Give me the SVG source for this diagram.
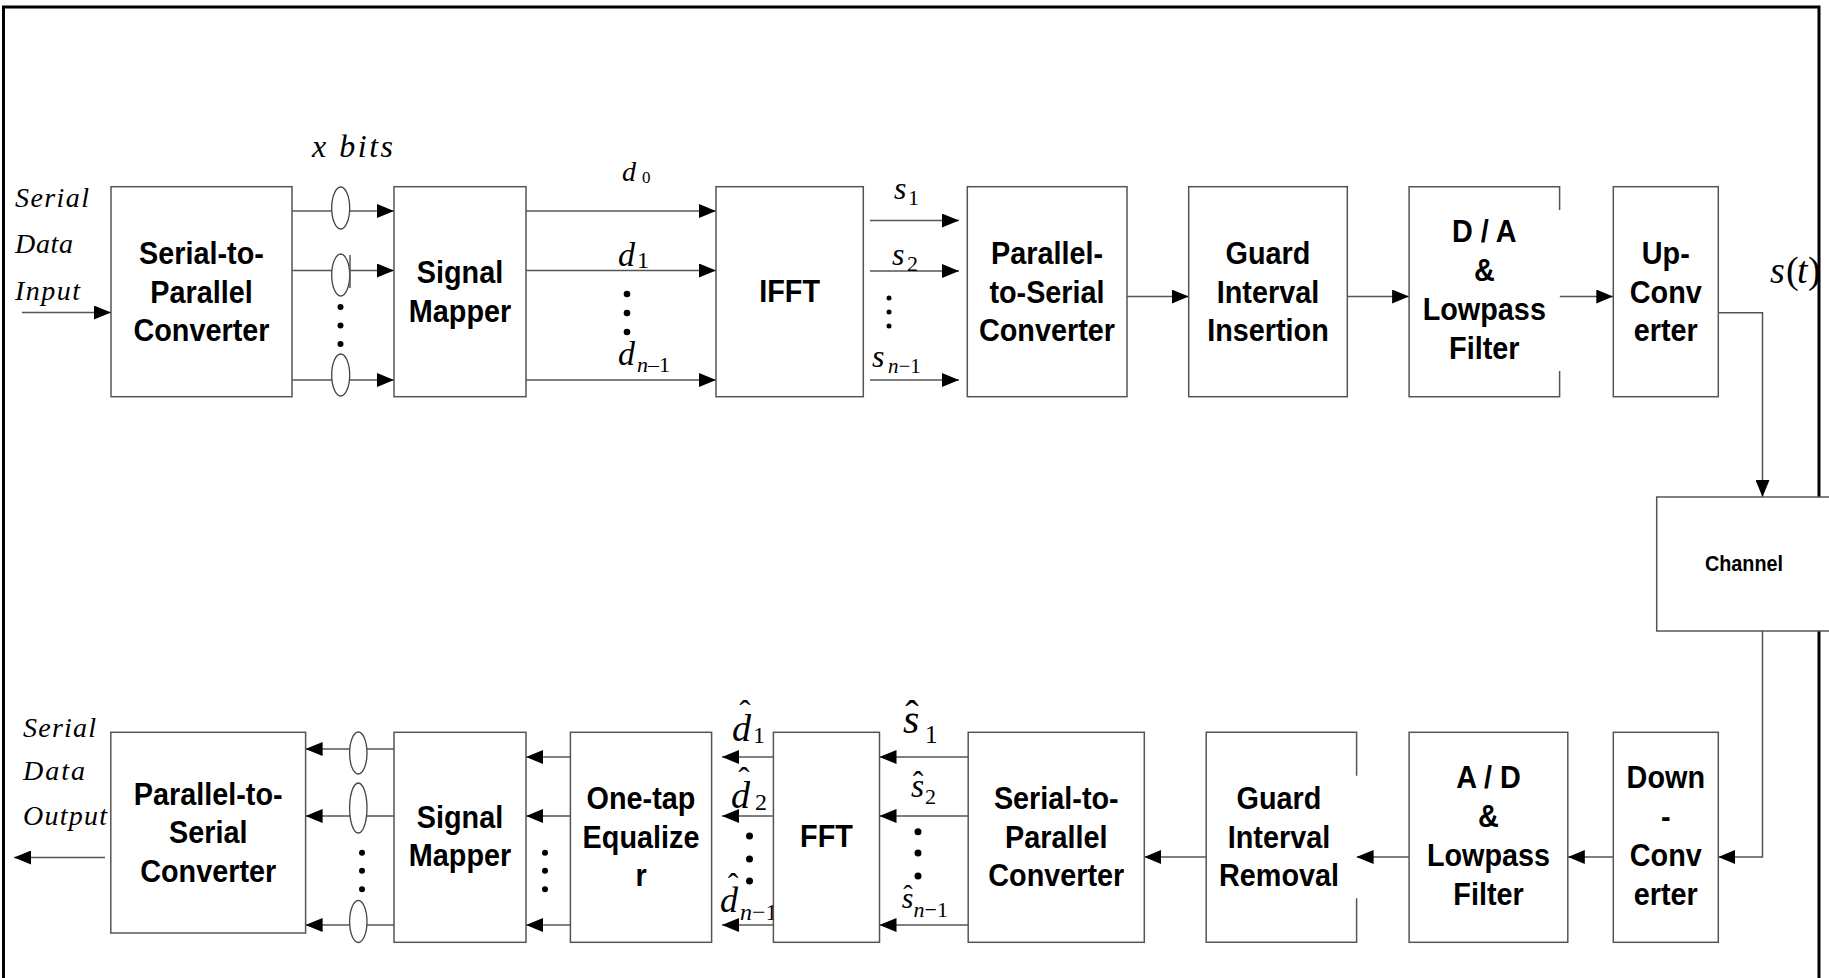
<svg xmlns="http://www.w3.org/2000/svg" width="1829" height="978" viewBox="0 0 1829 978">
<style>
.box{fill:#fff;stroke:#555;stroke-width:1.5}
.ln{fill:none;stroke:#555;stroke-width:1.5}
.ar{fill:none;stroke:#555;stroke-width:1.5;marker-end:url(#ah)}
.ell{fill:#fff;stroke:#444;stroke-width:1.3}
.dot{fill:#000}
.frame{fill:none;stroke:#000;stroke-width:3}
.lbl{font-family:"Liberation Sans",Arial,sans-serif;font-weight:bold;font-size:32px;text-anchor:middle;fill:#000}
.ch{font-size:22px}
.it{font-family:"Liberation Serif","Times New Roman",serif;font-style:italic;fill:#000}
.rm{font-family:"Liberation Serif","Times New Roman",serif;font-style:normal;fill:#000}
.hat{font-family:"Liberation Serif","Times New Roman",serif;font-style:normal;text-anchor:middle;fill:#000}
</style>
<defs>
<marker id="ah" markerUnits="userSpaceOnUse" markerWidth="17" markerHeight="14" refX="17" refY="7" orient="auto">
<path d="M0,0 L17,7 L0,14 z" fill="#000"/>
</marker>
</defs>
<rect width="1829" height="978" fill="#fff"/>
<g id="frame">
<path class="frame" d="M3.5,978 V7 H1819 V497"/>
<path class="frame" d="M1819,631 V978"/>
</g>

<g id="connectors">
<line class="ar" x1="22" y1="312.5" x2="111" y2="312.5"/>
<line class="ar" x1="287" y1="211" x2="394" y2="211"/>
<line class="ar" x1="287" y1="270.5" x2="394" y2="270.5"/>
<line class="ar" x1="287" y1="380" x2="394" y2="380"/>
<line class="ar" x1="526" y1="211" x2="716" y2="211"/>
<line class="ar" x1="526" y1="270.5" x2="716" y2="270.5"/>
<line class="ar" x1="526" y1="380" x2="716" y2="380"/>
<line class="ar" x1="870" y1="220.5" x2="959" y2="220.5"/>
<line class="ar" x1="870" y1="271" x2="959" y2="271"/>
<line class="ar" x1="870" y1="380" x2="959" y2="380"/>
<line class="ar" x1="1127" y1="296.5" x2="1188.7" y2="296.5"/>
<line class="ar" x1="1347.3" y1="296.5" x2="1409.1" y2="296.5"/>
<line class="ar" x1="1559.6" y1="296.5" x2="1613.3" y2="296.5"/>
<polyline class="ar" points="1718.3,312.7 1762.5,312.7 1762.5,497"/>
<polyline class="ar" points="1762.5,631 1762.5,857 1718.3,857"/>
<line class="ar" x1="1613.3" y1="857" x2="1567.8" y2="857"/>
<line class="ar" x1="1409.1" y1="857" x2="1356.6" y2="857"/>
<line class="ar" x1="1206.2" y1="857" x2="1144.3" y2="857"/>
<line class="ar" x1="968.2" y1="757" x2="879.5" y2="757"/>
<line class="ar" x1="968.2" y1="816" x2="879.5" y2="816"/>
<line class="ar" x1="968.2" y1="925" x2="879.5" y2="925"/>
<line class="ar" x1="773.4" y1="757" x2="722" y2="757"/>
<line class="ar" x1="773.4" y1="816" x2="722" y2="816"/>
<line class="ar" x1="773.4" y1="925" x2="722" y2="925"/>
<line class="ar" x1="570.4" y1="757" x2="526" y2="757"/>
<line class="ar" x1="570.4" y1="816" x2="526" y2="816"/>
<line class="ar" x1="570.4" y1="925" x2="526" y2="925"/>
<line class="ar" x1="394" y1="749" x2="305.6" y2="749"/>
<line class="ar" x1="394" y1="816" x2="305.6" y2="816"/>
<line class="ar" x1="394" y1="925" x2="305.6" y2="925"/>
<line class="ar" x1="105" y1="857.5" x2="14" y2="857.5"/>
</g>

<g id="bit-groups">
<ellipse class="ell" cx="340.7" cy="208" rx="9" ry="21"/>
<ellipse class="ell" cx="340.7" cy="275" rx="9" ry="21"/>
<line class="ln" x1="350" y1="255" x2="350" y2="288" stroke="#000"/>
<ellipse class="ell" cx="340.7" cy="375" rx="9" ry="21"/>
<circle class="dot" cx="340.5" cy="307" r="3"/>
<circle class="dot" cx="340.5" cy="325.5" r="3"/>
<circle class="dot" cx="340.5" cy="344" r="3"/>
<ellipse class="ell" cx="358.3" cy="753" rx="8.7" ry="21"/>
<ellipse class="ell" cx="358.3" cy="808" rx="8.7" ry="25"/>
<ellipse class="ell" cx="358.3" cy="921.5" rx="8.7" ry="21"/>
<circle class="dot" cx="362" cy="852.7" r="3"/>
<circle class="dot" cx="362" cy="870.7" r="3"/>
<circle class="dot" cx="362" cy="889.3" r="3"/>
<circle class="dot" cx="545" cy="852.7" r="3"/>
<circle class="dot" cx="545" cy="870.7" r="3"/>
<circle class="dot" cx="545" cy="889.3" r="3"/>
</g>

<g id="labels">
<text class="it" x="15" y="207" font-size="28" textLength="74">Serial</text>
<text class="it" x="15" y="253" font-size="28" textLength="58">Data</text>
<text class="it" x="15" y="300" font-size="28" textLength="65">Input</text>
<text class="it" x="312" y="157" font-size="32" textLength="81">x bits</text>
<text class="it" x="622" y="181" font-size="28">d</text>
<text class="rm" x="642" y="183" font-size="17">0</text>
<text class="it" x="618" y="266" font-size="34">d</text>
<text class="rm" x="637" y="268" font-size="24">1</text>
<circle class="dot" cx="627" cy="294" r="3.3"/>
<circle class="dot" cx="627" cy="313" r="3.3"/>
<circle class="dot" cx="627" cy="332" r="3.3"/>
<text class="it" x="618" y="365" font-size="34">d</text>
<text class="rm" x="637" y="372" font-size="22"><tspan class="it">n</tspan>–1</text>
<text class="it" x="894" y="199" font-size="32">s</text>
<text class="rm" x="908" y="205" font-size="22">1</text>
<text class="it" x="892" y="265" font-size="32">s</text>
<text class="rm" x="907" y="271" font-size="22">2</text>
<circle class="dot" cx="889" cy="298" r="2.5"/>
<circle class="dot" cx="889" cy="312" r="2.5"/>
<circle class="dot" cx="889" cy="326" r="2.5"/>
<text class="it" x="872" y="367" font-size="32">s</text>
<text class="rm" x="888" y="373" font-size="21"><tspan class="it">n</tspan>−1</text>
<text class="it" x="1770" y="283" font-size="38">s<tspan class="rm" x="1786">(</tspan><tspan x="1797">t</tspan><tspan class="rm" x="1808">)</tspan></text>

<text class="it" x="23" y="737" font-size="28" textLength="73">Serial</text>
<text class="it" x="23" y="780" font-size="28" textLength="62">Data</text>
<text class="it" x="23" y="825" font-size="28" textLength="84">Output</text>

<text class="it" x="732" y="741" font-size="38">d</text>
<text class="hat" x="745" y="724" font-size="34">ˆ</text>
<text class="rm" x="753" y="743" font-size="24">1</text>
<text class="it" x="731" y="808" font-size="38">d</text>
<text class="hat" x="744" y="791" font-size="34">ˆ</text>
<text class="rm" x="755" y="810" font-size="24">2</text>
<circle class="dot" cx="749.5" cy="836" r="3.5"/>
<circle class="dot" cx="749.5" cy="859" r="3.5"/>
<circle class="dot" cx="749.5" cy="881" r="3.5"/>
<text class="it" x="720" y="911.5" font-size="36">d</text>
<text class="hat" x="733" y="895" font-size="32">ˆ</text>
<text class="rm" x="740" y="920" font-size="24"><tspan class="it">n</tspan>−1</text>

<text class="it" x="903" y="733" font-size="42">s</text>
<text class="hat" x="912" y="728" font-size="40">ˆ</text>
<text class="rm" x="925" y="743" font-size="25">1</text>
<text class="it" x="911" y="797" font-size="34">s</text>
<text class="hat" x="918" y="793" font-size="32">ˆ</text>
<text class="rm" x="925" y="804" font-size="22">2</text>
<circle class="dot" cx="918" cy="831.7" r="3.5"/>
<circle class="dot" cx="918" cy="853" r="3.5"/>
<circle class="dot" cx="918" cy="876" r="3.5"/>
<text class="it" x="901.7" y="908" font-size="30">s</text>
<text class="hat" x="908" y="904" font-size="28">ˆ</text>
<text class="rm" x="913.5" y="917" font-size="22"><tspan class="it">n</tspan>−1</text>
</g>

<g id="sp-tx">
<rect class="box" x="111" y="186.7" width="181" height="210"/>
<g class="lbl" transform="matrix(0.9 0 0 1 20.15 0)">
<text x="201.5" y="264.5">Serial-to-</text>
<text x="201.5" y="303">Parallel</text>
<text x="201.5" y="341.5">Converter</text>
</g>
</g>
<g id="mapper-tx">
<rect class="box" x="394" y="186.7" width="132" height="210"/>
<g class="lbl" transform="matrix(0.9 0 0 1 46 0)">
<text x="460" y="283.3">Signal</text>
<text x="460" y="321.8">Mapper</text>
</g>
</g>
<g id="ifft">
<rect class="box" x="716" y="186.7" width="147.3" height="210"/>
<g class="lbl" transform="matrix(0.9 0 0 1 78.96 0)">
<text x="789.6" y="302">IFFT</text>
</g>
</g>
<g id="ps-tx">
<rect class="box" x="967.3" y="186.7" width="159.7" height="210"/>
<g class="lbl" transform="matrix(0.9 0 0 1 104.7 0)">
<text x="1047" y="264.5">Parallel-</text>
<text x="1047" y="303">to-Serial</text>
<text x="1047" y="341.5">Converter</text>
</g>
</g>
<g id="guard-ins">
<rect class="box" x="1188.7" y="186.7" width="158.6" height="210"/>
<g class="lbl" transform="matrix(0.9 0 0 1 126.8 0)">
<text x="1268" y="264.5">Guard</text>
<text x="1268" y="303">Interval</text>
<text x="1268" y="341.5">Insertion</text>
</g>
</g>
<g id="da-lpf">
<path class="box" d="M1559.6,210 V186.7 H1409.1 V396.7 H1559.6 V371"/>
<g class="lbl" transform="matrix(0.9 0 0 1 148.43 0)">
<text x="1484.3" y="242.5">D / A</text>
<text x="1484.3" y="281.5">&amp;</text>
<text x="1484.3" y="320.5">Lowpass</text>
<text x="1484.3" y="359.5">Filter</text>
</g>
</g>
<g id="upconv">
<rect class="box" x="1613.3" y="186.7" width="105" height="210"/>
<g class="lbl" transform="matrix(0.9 0 0 1 166.58 0)">
<text x="1665.8" y="264.5">Up-</text>
<text x="1665.8" y="303">Conv</text>
<text x="1665.8" y="341.5">erter</text>
</g>
</g>
<g id="channel">
<rect class="box" x="1656.7" y="497" width="190" height="134"/>
<g class="lbl ch" transform="matrix(0.9 0 0 1 174.4 0)">
<text x="1744" y="571">Channel</text>
</g>
</g>
<g id="downconv">
<rect class="box" x="1613.3" y="732.3" width="105" height="210"/>
<g class="lbl" transform="matrix(0.9 0 0 1 166.58 0)">
<text x="1665.8" y="788.5">Down</text>
<text x="1665.8" y="827.3">-</text>
<text x="1665.8" y="866.1">Conv</text>
<text x="1665.8" y="905">erter</text>
</g>
</g>
<g id="ad-lpf">
<rect class="box" x="1409.1" y="732.3" width="158.7" height="210"/>
<g class="lbl" transform="matrix(0.9 0 0 1 148.85 0)">
<text x="1488.5" y="788.5">A / D</text>
<text x="1488.5" y="827.3">&amp;</text>
<text x="1488.5" y="866.1">Lowpass</text>
<text x="1488.5" y="905">Filter</text>
</g>
</g>
<g id="guard-rem">
<path class="box" d="M1356.6,775.7 V732.3 H1206.2 V942.3 H1356.6 V898.3"/>
<g class="lbl" transform="matrix(0.9 0 0 1 127.9 0)">
<text x="1279" y="809.5">Guard</text>
<text x="1279" y="848">Interval</text>
<text x="1279" y="886.5">Removal</text>
</g>
</g>
<g id="sp-rx">
<rect class="box" x="968.2" y="732.3" width="176.1" height="210"/>
<g class="lbl" transform="matrix(0.9 0 0 1 105.63 0)">
<text x="1056.3" y="809.5">Serial-to-</text>
<text x="1056.3" y="848">Parallel</text>
<text x="1056.3" y="886.5">Converter</text>
</g>
</g>
<g id="fft">
<rect class="box" x="773.4" y="732.3" width="106.1" height="210"/>
<g class="lbl" transform="matrix(0.9 0 0 1 82.65 0)">
<text x="826.5" y="846.7">FFT</text>
</g>
</g>
<g id="equalizer">
<rect class="box" x="570.4" y="732.3" width="141.2" height="210"/>
<g class="lbl" transform="matrix(0.9 0 0 1 64.1 0)">
<text x="641" y="809.5">One-tap</text>
<text x="641" y="848">Equalize</text>
<text x="641" y="886.5">r</text>
</g>
</g>
<g id="mapper-rx">
<rect class="box" x="394" y="732.3" width="132" height="210"/>
<g class="lbl" transform="matrix(0.9 0 0 1 46 0)">
<text x="460" y="828">Signal</text>
<text x="460" y="866.5">Mapper</text>
</g>
</g>
<g id="ps-rx">
<rect class="box" x="110.8" y="732.3" width="194.8" height="200.7"/>
<g class="lbl" transform="matrix(0.9 0 0 1 20.82 0)">
<text x="208.2" y="804.7">Parallel-to-</text>
<text x="208.2" y="843.2">Serial</text>
<text x="208.2" y="881.7">Converter</text>
</g>
</g>
</svg>
